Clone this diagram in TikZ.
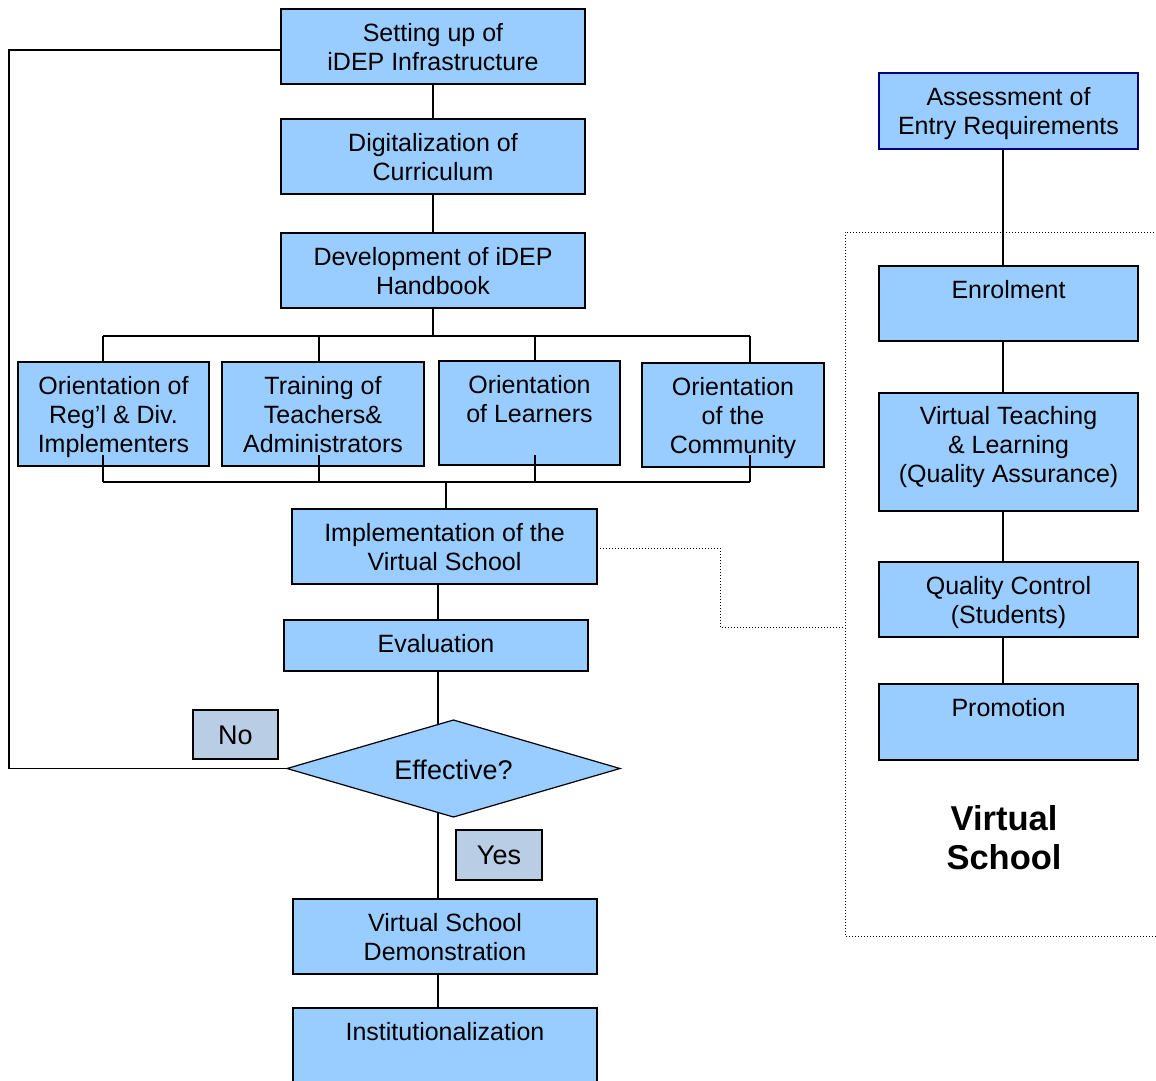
\documentclass[tikz,border=0pt]{standalone}
\usepackage{fontspec}
\setmainfont{Liberation Sans}
\usetikzlibrary{shapes.geometric,backgrounds}
\definecolor{boxblue}{HTML}{99CCFF}
\definecolor{tagblue}{HTML}{B9CDE5}
\definecolor{navyline}{HTML}{000080}
% a strut for the first line of a box: a little taller, so the text sits lower
\newcommand{\firststrut}{\rule{0pt}{\dimexpr0.7\baselineskip+7pt\relax}}
\tikzset{
  stepbox/.style={draw=black, line width=1.2pt, fill=boxblue, inner sep=0pt,
    outer sep=0pt, align=center, font=\fontsize{25}{29}\selectfont},
  tagbox/.style={stepbox, fill=tagblue, font=\fontsize{27}{31}\selectfont,
    text height=20pt, text depth=0.7pt},
  link/.style={line width=1.2pt},
  dotlink/.style={line width=1pt, dotted},
  titletext/.style={align=center, inner sep=0pt,
    font=\fontsize{34.5}{39}\selectfont\bfseries}
}
\begin{document}
\begin{tikzpicture}[x=1pt,y=-1pt]
\useasboundingbox (0,0) rectangle (1156,1081);

% main column
\node[stepbox, minimum width=304pt, minimum height=75pt] (setup) at (433,46.5)
  {\firststrut Setting up of\\\strut iDEP Infrastructure};
\node[stepbox, minimum width=304pt, minimum height=75pt] (digit) at (433,156.5)
  {\firststrut Digitalization of\\\strut Curriculum};
\node[stepbox, minimum width=304pt, minimum height=75pt] (handbook) at (433,270.5)
  {\firststrut Development of iDEP\\\strut Handbook};

% orientation row
\node[stepbox, minimum width=191pt, minimum height=104pt] (orreg) at (113.5,414)
  {\firststrut Orientation of\\\strut Reg'l \& Div.\\\strut Implementers};
\node[stepbox, minimum width=202pt, minimum height=104pt] (train) at (323,414)
  {\firststrut Training of\\\strut Teachers\&\\\strut Administrators};
\node[stepbox, minimum width=181pt, minimum height=104pt] (orlearn) at (529.5,413)
  {\firststrut Orientation\\\strut of Learners\\\strut\phantom{X}};
\node[stepbox, minimum width=182pt, minimum height=104pt] (orcomm) at (733,415)
  {\firststrut Orientation\\\strut of the\\\strut Community};

\node[stepbox, minimum width=305pt, minimum height=75pt] (impl) at (444.5,546.5)
  {\firststrut Implementation of the\\\strut Virtual School};
\node[stepbox, minimum width=304pt, minimum height=51pt, text height=15pt, text depth=0.1pt]
  (eval) at (436,645.5) {Evaluation};
\node[stepbox, shape=diamond, aspect=3.43, minimum width=333pt, minimum height=97pt,
  font=\fontsize{27}{31}\selectfont, text height=26pt, text depth=3.7pt]
  (eff) at (453.5,768.5) {Effective?};
\node[tagbox, minimum width=85pt, minimum height=49pt] (no) at (235.5,734.5) {No};
\node[tagbox, minimum width=86pt, minimum height=50pt] (yes) at (499,855) {Yes};
\node[stepbox, minimum width=304pt, minimum height=75pt] (demo) at (445,936.5)
  {\firststrut Virtual School\\\strut Demonstration};
\node[stepbox, minimum width=304pt, minimum height=75pt] (inst) at (445,1045.5)
  {\firststrut Institutionalization\\\strut\phantom{X}};

% virtual school column
\node[stepbox, draw=navyline, minimum width=259pt, minimum height=76pt] (assess) at (1008.5,111)
  {\firststrut Assessment of\\\strut Entry Requirements};
\node[stepbox, minimum width=259pt, minimum height=75pt] (enrol) at (1008.5,303.5)
  {\firststrut Enrolment\\\strut\phantom{X}};
\node[stepbox, minimum width=259pt, minimum height=118pt] (vtl) at (1008.5,452)
  {\firststrut Virtual Teaching\\\strut \& Learning\\\strut (Quality Assurance)\rule[-24.7pt]{0pt}{24.7pt}};
\node[stepbox, minimum width=259pt, minimum height=75pt] (qc) at (1008.5,599.5)
  {\firststrut Quality Control\\\strut (Students)};
\node[stepbox, minimum width=259pt, minimum height=76pt] (promo) at (1008.5,722)
  {\firststrut Promotion\\\strut\phantom{X}};
\node[titletext] (vslabel) at (1004,842) {\strut Virtual\\\strut School};

% helper coordinates
\coordinate (loopx) at (9,0);
\coordinate (loopy) at (0,50);
\coordinate (busT) at (0,336);
\coordinate (busB) at (0,482);
\coordinate (stub) at (0,455);
\coordinate (c1) at (103,0);
\coordinate (c2) at (319,0);
\coordinate (c3) at (535,0);
\coordinate (c4) at (750,0);
\coordinate (cmid) at (446,0);
\coordinate (spine) at (438,0);
\coordinate (rspine) at (1003,0);
\coordinate (jogx) at (720,0);
\coordinate (joga) at (0,548);
\coordinate (jogy) at (0,627);
\coordinate (frameA) at (845,232);
\coordinate (frameB) at (1175,936);

\begin{scope}[on background layer]
  \draw[link] (setup.south) -- (digit.north);
  \draw[link] (digit.south) -- (handbook.north);
  \draw[link] (handbook.south) -- (handbook.south |- busT);
  \draw[link] (c1 |- busT) -- (c4 |- busT);
  \draw[link] (c1 |- busT) -- (c1 |- orreg.north);
  \draw[link] (c2 |- busT) -- (c2 |- train.north);
  \draw[link] (c3 |- busT) -- (c3 |- orlearn.north);
  \draw[link] (c4 |- busT) -- (c4 |- orcomm.north);
  \draw[link] (c1 |- busB) -- (c4 |- busB);
  \draw[link] (cmid |- busB) -- (cmid |- impl.north);
  \draw[link] (spine |- impl.south) -- (spine |- eval.north);
  \draw[link] (spine |- eval.south) -- (spine |- demo.north);
  \draw[link] (spine |- demo.south) -- (spine |- inst.north);
  \draw[link] (eff.west) -- (loopx |- eff.west) -- (loopx |- loopy) -- (setup.west |- loopy);
  \draw[link] (rspine |- assess.south) -- (rspine |- enrol.north);
  \draw[link] (rspine |- enrol.south) -- (rspine |- vtl.north);
  \draw[link] (rspine |- vtl.south) -- (rspine |- qc.north);
  \draw[link] (rspine |- qc.south) -- (rspine |- promo.north);
  \draw[dotlink] (impl.east |- joga) -- (jogx |- joga) -- (jogx |- jogy) -- (frameA |- jogy);
  \draw[dotlink] (frameB |- frameA) -- (frameA) -- (frameA |- frameB) -- (frameB);
\end{scope}

% stubs from the orientation boxes down to the lower bus
\draw[link] (c1 |- stub) -- (c1 |- busB);
\draw[link] (c2 |- stub) -- (c2 |- busB);
\draw[link] (c3 |- stub) -- (c3 |- busB);
\draw[link] (c4 |- stub) -- (c4 |- busB);
\end{tikzpicture}
\end{document}
